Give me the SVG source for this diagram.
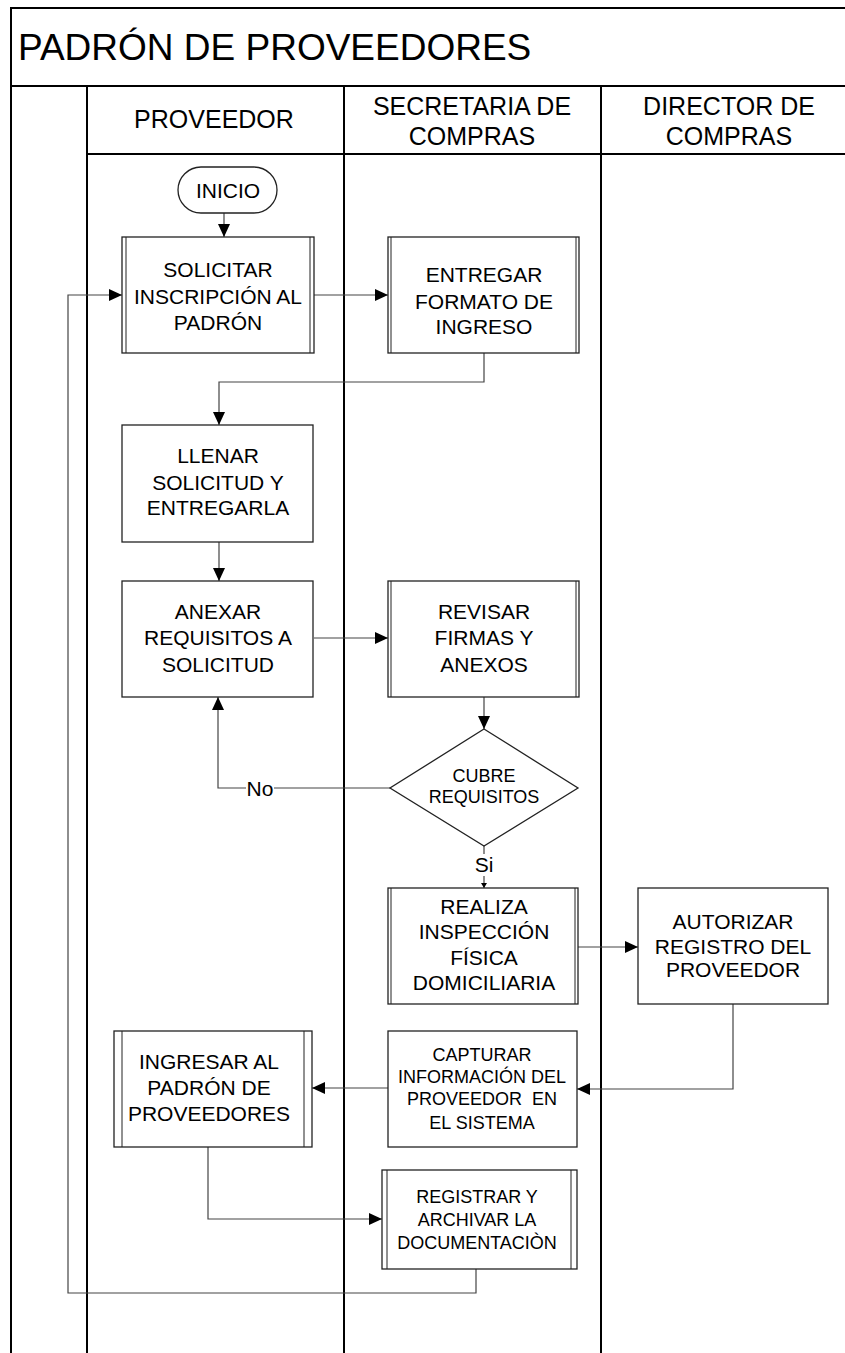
<svg xmlns="http://www.w3.org/2000/svg" width="845" height="1353" viewBox="0 0 845 1353">
<style>
text{font-family:"Liberation Sans",Arial,sans-serif;fill:#000;text-anchor:middle}
.t21{font-size:21px}
.t18{font-size:18px}
.hd{font-size:25px}
.lane{stroke:#000;stroke-width:2;fill:none}
.box{fill:#fff;stroke:#222;stroke-width:1.3}
.in{stroke:#222;stroke-width:1;fill:none}
.c{fill:none;stroke:#444;stroke-width:1.2}
.lbl{fill:#fff;stroke:none}
</style>
<defs>
<marker id="ah" markerWidth="14" markerHeight="12" refX="13" refY="6" orient="auto" markerUnits="userSpaceOnUse"><path d="M0,0 L13,6 L0,12 z" fill="#000"/></marker>
<marker id="ahs" markerWidth="6" markerHeight="6" refX="5" refY="3" orient="auto" markerUnits="userSpaceOnUse"><path d="M0,0 L5,3 L0,6 z" fill="#000"/></marker>
</defs>
<rect width="845" height="1353" fill="#fff"/>
<g id="frame">
<path class="lane" d="M11,1353 V8 H846 M11,86 H846 M87,86 V1353 M344,86 V1353 M601,86 V1353 M87,154 H846"/>
<text x="18" y="60" style="font-size:37px;text-anchor:start">PADRÓN DE PROVEEDORES</text>
<text class="hd" x="214" y="128">PROVEEDOR</text>
<text class="hd" x="472" y="115">SECRETARIA DE</text>
<text class="hd" x="472" y="145">COMPRAS</text>
<text class="hd" x="729" y="115">DIRECTOR DE</text>
<text class="hd" x="729" y="145">COMPRAS</text>
</g>
<g id="connectors">
<path class="c" d="M224,213 V237" marker-end="url(#ah)"/>
<path class="c" d="M314,295 H388" marker-end="url(#ah)"/>
<path class="c" d="M484,353 V382 H219 V425" marker-end="url(#ah)"/>
<path class="c" d="M219,542 V581" marker-end="url(#ah)"/>
<path class="c" d="M314,638 H388" marker-end="url(#ah)"/>
<path class="c" d="M484,697 V729" marker-end="url(#ah)"/>
<path class="c" d="M390,788 H218 V697" marker-end="url(#ah)"/>
<path class="c" d="M484,846 V888" marker-end="url(#ahs)"/>
<path class="c" d="M578,947 H638" marker-end="url(#ah)"/>
<path class="c" d="M733,1004 V1089 H577" marker-end="url(#ah)"/>
<path class="c" d="M388,1088 H312" marker-end="url(#ah)"/>
<path class="c" d="M208,1147 V1219 H382" marker-end="url(#ah)"/>
<path class="c" d="M476,1269 V1293 H68 V295 H122" marker-end="url(#ah)"/>
<rect class="lbl" x="246" y="777" width="28" height="22"/>
<text class="t21" x="260" y="796">No</text>
<rect class="lbl" x="475" y="854" width="18" height="22"/>
<text class="t21" x="484" y="872">Si</text>
</g>
<g id="inicio">
<rect class="box" x="178" y="167" width="99" height="46" rx="23"/>
<text class="t21" x="228" y="198">INICIO</text>
</g>
<g id="solicitar">
<rect class="box" x="122" y="237" width="192" height="116"/>
<path class="in" d="M126,237 V353 M310,237 V353"/>
<text class="t21" x="218" y="277">SOLICITAR</text>
<text class="t21" x="218" y="304">INSCRIPCIÓN AL</text>
<text class="t21" x="218" y="330">PADRÓN</text>
</g>
<g id="entregar">
<rect class="box" x="388" y="237" width="191" height="116"/>
<path class="in" d="M391,237 V353 M576,237 V353"/>
<text class="t21" x="484" y="282">ENTREGAR</text>
<text class="t21" x="484" y="309">FORMATO DE</text>
<text class="t21" x="484" y="334">INGRESO</text>
</g>
<g id="llenar">
<rect class="box" x="122" y="425" width="191" height="117"/>
<text class="t21" x="218" y="463">LLENAR</text>
<text class="t21" x="218" y="490">SOLICITUD Y</text>
<text class="t21" x="218" y="515">ENTREGARLA</text>
</g>
<g id="anexar">
<rect class="box" x="122" y="581" width="191" height="116"/>
<text class="t21" x="218" y="619">ANEXAR</text>
<text class="t21" x="218" y="645">REQUISITOS A</text>
<text class="t21" x="218" y="672">SOLICITUD</text>
</g>
<g id="revisar">
<rect class="box" x="388" y="581" width="191" height="116"/>
<path class="in" d="M391,581 V697 M576,581 V697"/>
<text class="t21" x="484" y="619">REVISAR</text>
<text class="t21" x="484" y="645">FIRMAS Y</text>
<text class="t21" x="484" y="672">ANEXOS</text>
</g>
<g id="cubre">
<path class="box" d="M484,729 L578,788 L484,846 L390,788 Z"/>
<text class="t18" x="484" y="782">CUBRE</text>
<text class="t18" x="484" y="803">REQUISITOS</text>
</g>
<g id="realiza">
<rect class="box" x="388" y="888" width="190" height="116"/>
<path class="in" d="M391,888 V1004 M575,888 V1004"/>
<text class="t21" x="484" y="914">REALIZA</text>
<text class="t21" x="484" y="939">INSPECCIÓN</text>
<text class="t21" x="484" y="965">FÍSICA</text>
<text class="t21" x="484" y="990">DOMICILIARIA</text>
</g>
<g id="autorizar">
<rect class="box" x="638" y="888" width="190" height="116"/>
<text class="t21" x="733" y="929">AUTORIZAR</text>
<text class="t21" x="733" y="954">REGISTRO DEL</text>
<text class="t21" x="733" y="977">PROVEEDOR</text>
</g>
<g id="capturar">
<rect class="box" x="388" y="1031" width="189" height="116"/>
<text class="t18" x="482" y="1061">CAPTURAR</text>
<text class="t18" x="482" y="1083">INFORMACIÓN DEL</text>
<text class="t18" x="482" y="1105" xml:space="preserve">PROVEEDOR  EN</text>
<text class="t18" x="482" y="1129">EL SISTEMA</text>
</g>
<g id="ingresar">
<rect class="box" x="114" y="1031" width="198" height="116"/>
<path class="in" d="M122,1031 V1147 M304,1031 V1147"/>
<text class="t21" x="209" y="1069">INGRESAR AL</text>
<text class="t21" x="209" y="1095">PADRÓN DE</text>
<text class="t21" x="209" y="1121">PROVEEDORES</text>
</g>
<g id="registrar">
<rect class="box" x="382" y="1170" width="195" height="99"/>
<path class="in" d="M387,1170 V1269 M571,1170 V1269"/>
<text class="t18" x="477" y="1203">REGISTRAR Y</text>
<text class="t18" x="477" y="1226">ARCHIVAR LA</text>
<text class="t18" x="477" y="1249">DOCUMENTACIÒN</text>
</g>
</svg>
